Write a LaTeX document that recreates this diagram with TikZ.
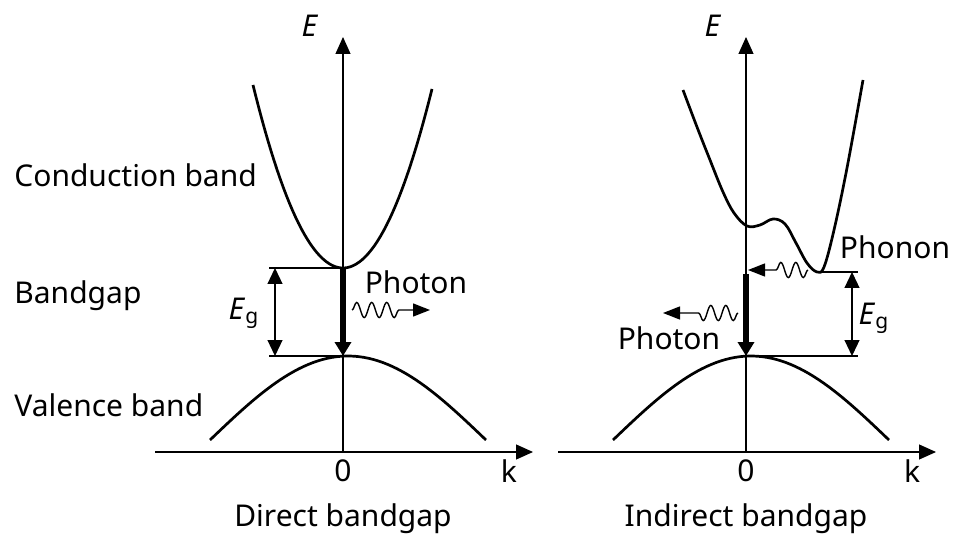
\documentclass[tikz,border=0pt]{standalone}
\usepackage{fontspec}
\setmainfont{Noto Sans}
\usetikzlibrary{arrows.meta,decorations.pathmorphing,positioning}

\tikzset{
  axis/.style={line width=0.6pt},
  axisarrow/.style={axis,-{Triangle[length=8.5pt,width=7.5pt]}},
  band/.style={line width=1.35pt,line join=round},
  level/.style={line width=0.6pt},
  gaparrow/.style={line width=0.6pt,{Triangle[length=8pt,width=7.5pt]}-{Triangle[length=8pt,width=7.5pt]}},
  recomb/.style={line width=3pt,-{Triangle[length=7pt,width=8pt]}},
  wave/.style={line width=0.7pt,-{Triangle[length=8.5pt,width=6.5pt]},decorate,
    decoration={snake,amplitude=3.8pt,segment length=7.5pt,post length=#1}},
  lbl/.style={font=\fontsize{15}{18}\selectfont,inner sep=0pt}
}

\begin{document}
\begin{tikzpicture}[x=0.5pt,y=-0.5pt]
  \useasboundingbox (0,0) rectangle (953,534);
  % Axes
  \foreach \ox/\nm/\tl in {343/L/Direct bandgap, 746/R/Indirect bandgap} {
    \coordinate (origin\nm) at (\ox,452);
    \coordinate (kstart\nm) at (\ox-188,452);
    \coordinate (kend\nm) at (\ox+190,452);
    \coordinate (Etop\nm) at (\ox,37);
    \draw[axisarrow] (kstart\nm) -- (kend\nm);
    \draw[axisarrow] (origin\nm) -- (Etop\nm);
    \node[lbl] (E\nm) at (\ox-33,26) {\textit{E}};
    \node[lbl] (zero\nm) at (\ox,471) {0};
    \node[lbl] (k\nm) at (\ox+166,471) {k};
    \node[lbl] (title\nm) at (\ox,519) {\tl};
  }
  % Band names
  \node[lbl,anchor=west] (condLbl) at (14,175) {Conduction band};
  \node[lbl,anchor=west] (gapLbl) at (14,296) {Bandgap};
  \node[lbl,anchor=west] (valLbl) at (14,405) {Valence band};

  % Direct bandgap
  \coordinate (cbminL) at (343,268);
  \coordinate (vbmaxL) at (343,356);
  \coordinate (gaptopL) at (269,268);
  \coordinate (gapbotL) at (269,356);
  \coordinate (egtopL) at (275,268);
  \coordinate (egbotL) at (275,356);
  \draw[band] plot[domain=-90:89,samples=60] ({343+\x},{268-0.0226*\x*\x});
  \draw[band] plot[domain=-138:138,samples=60] ({348+\x},{356+84*(1-cos(90*\x/138))});
  \draw[level] (gaptopL) -- (cbminL);
  \draw[level] (gapbotL) -- (vbmaxL);
  \draw[gaparrow] (egtopL) -- (egbotL);
  \node[lbl] (egL) at (244,313) {\textit{E}$_{\mathrm{g}}$};
  \draw[recomb] (cbminL) -- (vbmaxL);
  \coordinate (photonLa) at (352,310);
  \coordinate (photonLb) at (430,310);
  \draw[wave=15pt] (photonLa) -- (photonLb);
  \node[lbl] (photonL) at (416,282) {Photon};

  % Indirect bandgap
  \coordinate (cbminR) at (817,272);
  \coordinate (vbmaxR) at (746,356);
  \coordinate (dropR) at (746,274);
  \coordinate (gaptopR) at (858,272);
  \coordinate (gapbotR) at (858,356);
  \coordinate (egtopR) at (852,272);
  \coordinate (egbotR) at (852,356);
  \draw[band] plot[smooth,tension=0.6] coordinates {(683,90) (697,127) (710,160)
    (723,192) (734,213) (747,226) (760,225) (773,219) (785,224) (796,243)
    (807,263) (817,272) (824,267) (834,230) (847,168) (863,80)};
  \draw[band] plot[domain=-138:138,samples=60] ({751+\x},{356+84*(1-cos(90*\x/138))});
  \draw[level] (cbminR) -- (gaptopR);
  \draw[level] (vbmaxR) -- (gapbotR);
  \draw[gaparrow] (egtopR) -- (egbotR);
  \node[lbl] (egR) at (874,318) {\textit{E}$_{\mathrm{g}}$};
  \draw[recomb] (dropR) -- (vbmaxR);
  \coordinate (phononA) at (808,270);
  \coordinate (phononB) at (748,270);
  \draw[wave=11pt] (phononA) -- (phononB);
  \node[lbl] (phonon) at (895,247) {Phonon};
  \coordinate (photonRa) at (738,313);
  \coordinate (photonRb) at (663,313);
  \draw[wave=15pt] (photonRa) -- (photonRb);
  \node[lbl] (photonR) at (669,338) {Photon};
\end{tikzpicture}
\end{document}
